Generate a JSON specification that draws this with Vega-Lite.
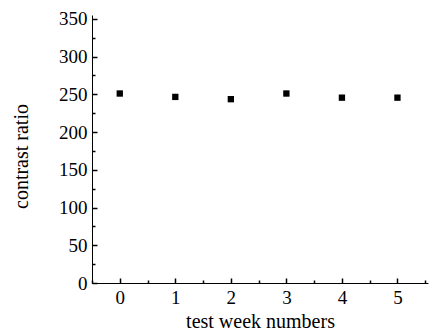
{
  "$schema": "https://vega.github.io/schema/vega-lite/v6.json",
  "autosize": "none",
  "padding": {"left": 92, "top": 15, "right": 6, "bottom": 51},
  "width": 336,
  "height": 268,
  "background": "white",
  "config": {
    "view": {"stroke": null},
    "font": "Liberation Serif",
    "axis": {
      "domainColor": "black",
      "domainWidth": 1,
      "tickColor": "black",
      "labelColor": "black",
      "titleColor": "black",
      "labelFont": "Liberation Serif",
      "titleFont": "Liberation Serif",
      "labelFontSize": 19,
      "titleFontSize": 20,
      "titleFontWeight": "normal",
      "grid": false
    }
  },
  "data": {
    "values": [
      {"week": 0, "ratio": 251, "low": 247, "high": 255},
      {"week": 1, "ratio": 246.5, "low": 242.5, "high": 250.5},
      {"week": 2, "ratio": 243.5, "low": 239.5, "high": 247.5},
      {"week": 3, "ratio": 251, "low": 247, "high": 255},
      {"week": 4, "ratio": 245.5, "low": 241.5, "high": 249.5},
      {"week": 5, "ratio": 245.5, "low": 241.5, "high": 249.5}
    ]
  },
  "resolve": {"axis": {"x": "independent", "y": "independent"}},
  "layer": [
    {
      "mark": {"type": "rule", "color": "#999", "strokeWidth": 1},
      "encoding": {
        "x": {"field": "week", "type": "quantitative", "scale": {"domain": [-0.5, 5.55], "nice": false, "zero": false},
          "axis": {"orient": "bottom", "values": [0, 1, 2, 3, 4, 5], "tickSize": -5, "tickWidth": 1.5, "labelPadding": 10, "title": "test week numbers", "titlePadding": 4, "labelFlush": false}},
        "y": {"field": "low", "type": "quantitative", "scale": {"domain": [0, 355], "nice": false},
          "axis": {"orient": "left", "values": [0, 50, 100, 150, 200, 250, 300, 350], "tickSize": -5, "tickWidth": 1.5, "labelPadding": 10, "title": "contrast ratio", "titlePadding": 27, "titleY": 141, "labelFlush": false}},
        "y2": {"field": "high"}
      }
    },
    {
      "mark": {"type": "square", "color": "black", "opacity": 1, "size": 40, "filled": true},
      "encoding": {
        "x": {"field": "week", "type": "quantitative",
          "axis": {"orient": "bottom", "values": [-0.5, 0.5, 1.5, 2.5, 3.5, 4.5, 5.5], "tickSize": -3, "tickWidth": 1.5, "labels": false, "domain": false, "title": null}},
        "y": {"field": "ratio", "type": "quantitative",
          "axis": {"orient": "left", "values": [25, 75, 125, 175, 225, 275, 325], "tickSize": -3, "tickWidth": 1.5, "labels": false, "domain": false, "title": null}}
      }
    }
  ]
}
